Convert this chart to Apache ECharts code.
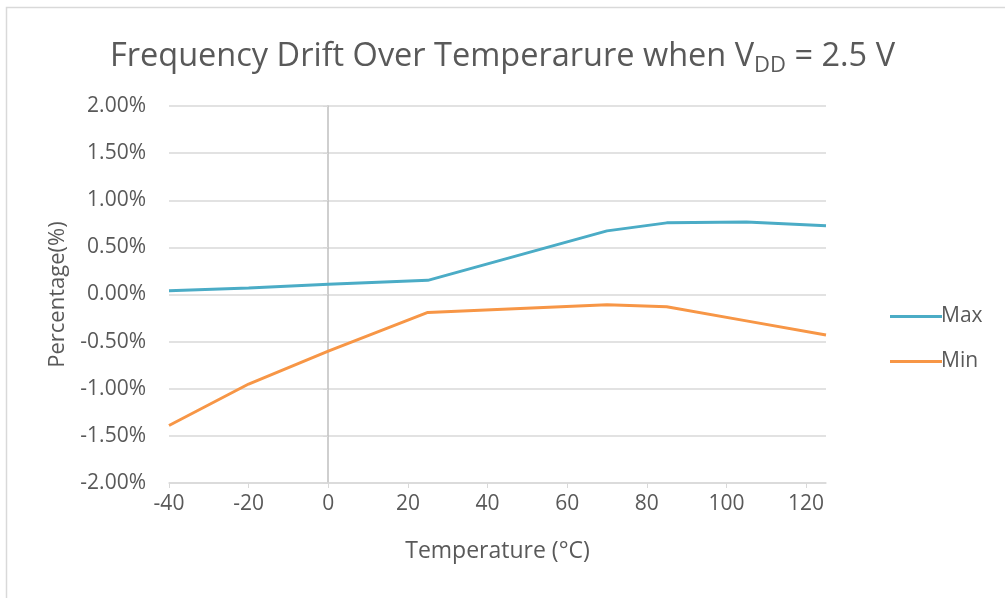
<!DOCTYPE html>
<html><head><meta charset="utf-8">
<style>html,body{margin:0;padding:0;background:#fff}#c{width:1005px;height:598px}</style>
<script src="https://cdn.jsdelivr.net/npm/echarts@6/dist/echarts.min.js"></script>
</head><body><div id="c"></div>
<script>
var temps = [-40, -20, 0, 25, 70, 85, 105, 125];
var maxVals = [0.04, 0.07, 0.11, 0.15, 0.675, 0.76, 0.77, 0.73];
var minVals = [-1.39, -0.95, -0.60, -0.19, -0.11, -0.13, -0.28, -0.43];
var seriesNames = ['Max', 'Min'];
var colors = ['#4bacc6', '#f79646'];
var FONT = 'Open Sans';
function pairs(v){ return temps.map(function(t,i){ return [t, v[i]]; }); }
var chart = echarts.init(document.getElementById('c'));
chart.setOption({
  animation: false,
  textStyle: {fontFamily: FONT},
  graphic: [{type:'rect', shape:{x:6.5,y:7.5,width:1010,height:600}, style:{fill:'none', stroke:'#d9d9d9', lineWidth:1.5}, silent:true}],
  title: {
    text: 'Frequency Drift Over Temperarure when V{s|DD} = 2.5 V',
    left: 'center', top: 32,
    textStyle: {fontFamily: FONT, fontSize: 32.5, fontWeight: 'normal', color: '#595959',
      rich: {s: {fontFamily: FONT, fontSize: 22, color: '#595959', padding: [18,0,0,0]}}}
  },
  grid: {left: 169, right: 179, top: 106, bottom: 115},
  legend: {
    orient: 'vertical', left: 885, top: 301, itemWidth: 52, itemHeight: 3, itemGap: 24,
    icon: 'rect',
    textStyle: {fontFamily: FONT, fontSize: 21, color: '#595959', padding: [0,0,0,-6]},
    data: seriesNames
  },
  xAxis: {
    type: 'value', min: -40, max: 125, interval: 20,
    name: 'Temperature (°C)', nameLocation: 'middle', nameGap: 57,
    nameTextStyle: {fontFamily: FONT, fontSize: 23, color: '#595959'},
    axisLine: {show: true, onZero: false, lineStyle: {color: '#d9d9d9', width: 1.5}},
    axisTick: {show: true, length: 5, lineStyle: {color: '#d9d9d9'}},
    axisLabel: {fontFamily: FONT, fontSize: 21, color: '#595959', margin: 11, showMaxLabel: false},
    splitLine: {show: false}
  },
  yAxis: [{
    type: 'value', min: -2, max: 2, interval: 0.5,
    name: 'Percentage(%)', nameLocation: 'middle', nameGap: 100,
    nameTextStyle: {fontFamily: FONT, fontSize: 22, color: '#595959'},
    axisLine: {show: false}, axisTick: {show: false},
    axisLabel: {fontFamily: FONT, fontSize: 21, color: '#595959', margin: 23,
      formatter: function(v){ return v.toFixed(2) + '%'; }},
    splitLine: {lineStyle: {color: '#d9d9d9', width: 1.5}}
  }, {
    type: 'value', min: -2, max: 2, interval: 0.5, position: 'left', offset: -159,
    axisLine: {show: true, onZero: false, lineStyle: {color: '#bfbfbf', width: 1.5}},
    axisTick: {show: true, length: 5, lineStyle: {color: '#d9d9d9'}},
    axisLabel: {show: false}, splitLine: {show: false}
  }],
  series: [
    {name: seriesNames[0], type: 'line', data: pairs(maxVals), symbol: 'none', color: colors[0],
     lineStyle: {width: 3, color: colors[0]}, z: 3},
    {name: seriesNames[1], type: 'line', data: pairs(minVals), symbol: 'none', color: colors[1],
     lineStyle: {width: 3, color: colors[1]}, z: 3}
  ]
});
</script></body></html>
